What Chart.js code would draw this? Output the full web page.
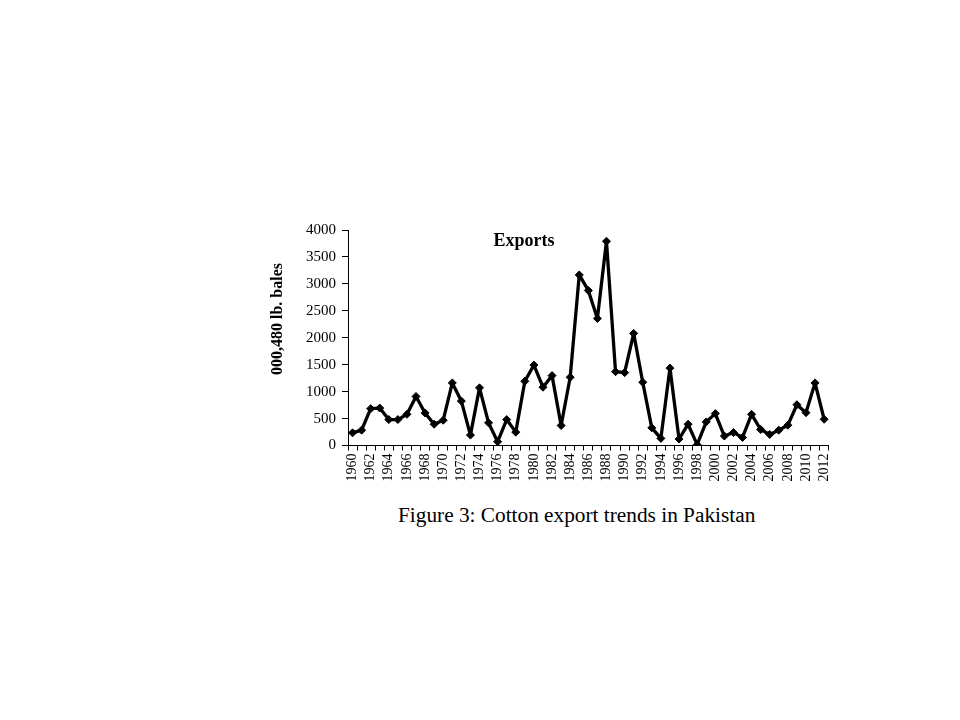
<!DOCTYPE html>
<html>
<head>
<meta charset="utf-8">
<script src="https://cdn.jsdelivr.net/npm/chart.js@4.4.0/dist/chart.umd.min.js"></script>
<style>
  html, body { margin:0; padding:0; background:#fff; }
  body { width:960px; height:720px; position:relative; overflow:hidden; }
  #wrap { position:absolute; left:260px; top:215px; width:584px; height:285px; }
  #caption { position:absolute; left:398px; top:503px; white-space:nowrap; line-height:24px;
    font-family:"Liberation Serif","Times New Roman",serif; font-size:21.3px; color:#000; }
</style>
</head>
<body>
<div id="wrap"><canvas id="c" width="584" height="285"></canvas></div>
<div id="caption">Figure 3: Cotton export trends in Pakistan</div>
<script>
const years = ["1960","1961","1962","1963","1964","1965","1966","1967","1968","1969",
  "1970","1971","1972","1973","1974","1975","1976","1977","1978","1979",
  "1980","1981","1982","1983","1984","1985","1986","1987","1988","1989",
  "1990","1991","1992","1993","1994","1995","1996","1997","1998","1999",
  "2000","2001","2002","2003","2004","2005","2006","2007","2008","2009",
  "2010","2011","2012"];
const exportsValues = [235,285,684,695,481,481,579,910,604,395,
  469,1162,824,193,1070,420,70,481,248,1192,
  1493,1082,1297,371,1266,3166,2878,2357,3791,1370,
  1352,2081,1174,328,132,1437,120,395,15,438,
  592,175,242,150,579,297,205,285,377,757,
  610,1162,487];
const yTicks = [0,500,1000,1500,2000,2500,3000,3500,4000];
const seriesTitle = "Exports";
const yTitle = "000,480 lb. bales";

const serif = "'Liberation Serif','Times New Roman',serif";

const textPlugin = {
  id: 'texts',
  afterDraw(chart) {
    const {ctx, chartArea} = chart;
    ctx.save();
    ctx.fillStyle = "#000";
    ctx.font = "bold 18px " + serif;
    ctx.textAlign = "center";
    ctx.textBaseline = "alphabetic";
    ctx.fillText(seriesTitle, chartArea.left + (chartArea.right - chartArea.left) * 0.366, chartArea.top + 16);
    ctx.font = "bold 16px " + serif;
    ctx.translate(chartArea.left - 70, chartArea.top + (chartArea.bottom - chartArea.top) * 0.413);
    ctx.rotate(-Math.PI / 2);
    ctx.textAlign = "center";
    ctx.textBaseline = "middle";
    ctx.fillText(yTitle, 0, 0);
    ctx.restore();
  }
};

new Chart(document.getElementById('c'), {
  type: 'line',
  data: {
    labels: years,
    datasets: [{
      data: exportsValues,
      borderColor: '#000',
      backgroundColor: '#000',
      borderWidth: 3.3,
      borderJoinStyle: 'round',
      pointStyle: 'rectRot',
      pointRadius: 4,
      pointBorderWidth: 1,
      pointBackgroundColor: '#000',
      pointBorderColor: '#000',
      tension: 0,
      fill: false
    }]
  },
  options: {
    responsive: false,
    animation: false,
    devicePixelRatio: 1,
    layout: { padding: { top: 14, right: 9, left: 0, bottom: 0 } },
    plugins: { legend: { display: false }, tooltip: { enabled: false }, title: { display: false } },
    scales: {
      x: {
        type: 'category',
        offset: true,
        afterFit(scale) { scale.height = 54.5; },
        grid: { offset: true, drawOnChartArea: false, drawTicks: true, tickLength: 5, color: '#000', lineWidth: 1 },
        border: { display: true, color: '#000', width: 1 },
        ticks: {
          autoSkip: false, minRotation: 90, maxRotation: 90, padding: 3,
          color: '#000', font: { family: serif, size: 14 },
          callback(v, i) { return i % 2 === 0 ? years[i] : ''; }
        }
      },
      y: {
        min: 0, max: 4000,
        afterFit(scale) { scale.width = 88; },
        afterBuildTicks(scale) { scale.ticks = yTicks.map(v => ({ value: v })); },
        grid: { drawOnChartArea: false, drawTicks: true, tickLength: 6, color: '#000', lineWidth: 1 },
        border: { display: true, color: '#000', width: 1 },
        ticks: { padding: 6, color: '#000', font: { family: serif, size: 15 },
          callback(v) { return String(v); } },
        title: { display: false }
      }
    }
  },
  plugins: [textPlugin]
});
</script>
</body>
</html>
